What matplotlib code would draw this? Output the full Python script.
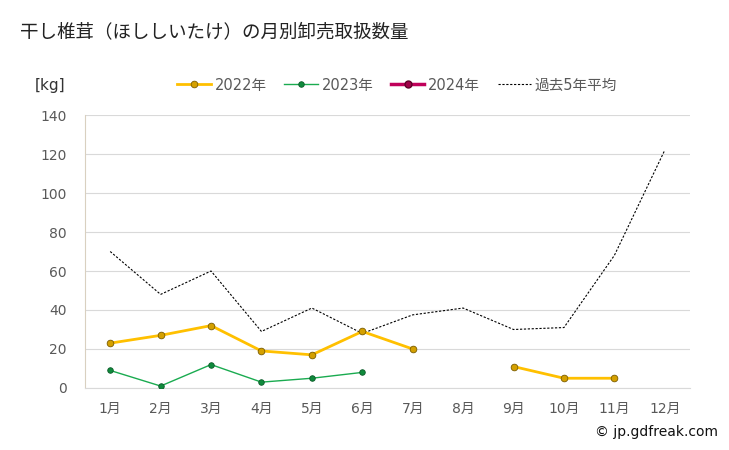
import numpy as np
import matplotlib.pyplot as plt

plt.rcParams['font.family'] = ['DejaVu Sans', 'Noto Sans CJK JP']

months = ['1月', '2月', '3月', '4月', '5月', '6月', '7月', '8月', '9月', '10月', '11月', '12月']
y2022 = [23, 27, 32, 19, 17, 29, 20, np.nan, 11, 5, 5, np.nan]
y2023 = [9, 1, 12, 3, 5, 8, np.nan, np.nan, np.nan, np.nan, np.nan, np.nan]
y2024 = [np.nan] * 12
avg5 = [70, 48, 60, 29, 41, 28, 37.5, 41, 30, 31, 68, 122]
yticks = [0, 20, 40, 60, 80, 100, 120, 140]

fig = plt.figure(figsize=(7.29, 4.5), dpi=100)
ax = fig.add_axes([0.1166, 0.1378, 0.8299, 0.6066])
x = np.arange(len(months))

ax.plot(x, avg5, color='black', lw=0.8, ls=(0, (2, 1.5)), label='過去5年平均', zorder=2)
ax.plot(x, y2022, color='#ffc000', lw=2, marker='o', ms=4.8, mfc='#d4a000', mec='#7a5c00', mew=0.6, label='2022年', zorder=3)
ax.plot(x, y2023, color='#1aab50', lw=1, marker='o', ms=4, mfc='#0f8a3c', mec='#0a5a28', mew=0.6, label='2023年', zorder=3)
ax.plot(x, y2024, color='#c0005a', lw=2.5, marker='o', ms=5, mfc='#a00048', mec='#600028', label='2024年', zorder=3)

ax.set_xlim(-0.5, 11.5)
ax.set_ylim(0, 140)
ax.set_yticks(yticks)
ax.set_xticks(x)
ax.set_xticklabels(months)
ax.grid(axis='y', color='#d9d9d9', lw=0.8)
ax.set_axisbelow(True)
for s in ['top', 'right']:
    ax.spines[s].set_visible(False)
ax.spines['left'].set_color('#d9d0c0')
ax.spines['bottom'].set_color('#d9d9d9')
ax.tick_params(length=0, colors='#595959', labelsize=10)
ax.tick_params(axis='y', pad=13)
ax.tick_params(axis='x', pad=10)

h, l = ax.get_legend_handles_labels()
order = [1, 2, 3, 0]
fig.legend([h[i] for i in order], [l[i] for i in order], loc='center', bbox_to_anchor=(0.545, 0.811),
           ncol=4, frameon=False, fontsize=10.5, labelcolor='#595959', handlelength=2.3, columnspacing=1.2,
           handletextpad=0.25)

fig.text(0.027, 0.928, '干し椎茸（ほししいたけ）の月別卸売取扱数量', fontsize=13.3, va='center', color='#222222',
         family=['Noto Sans CJK JP'])
fig.text(0.048, 0.811, '[kg]', fontsize=11, va='center', color='#333333')
fig.text(0.985, 0.04, '© jp.gdfreak.com', fontsize=10, ha='right', va='center', color='#111111')

fig.savefig('out.png', dpi=100)
